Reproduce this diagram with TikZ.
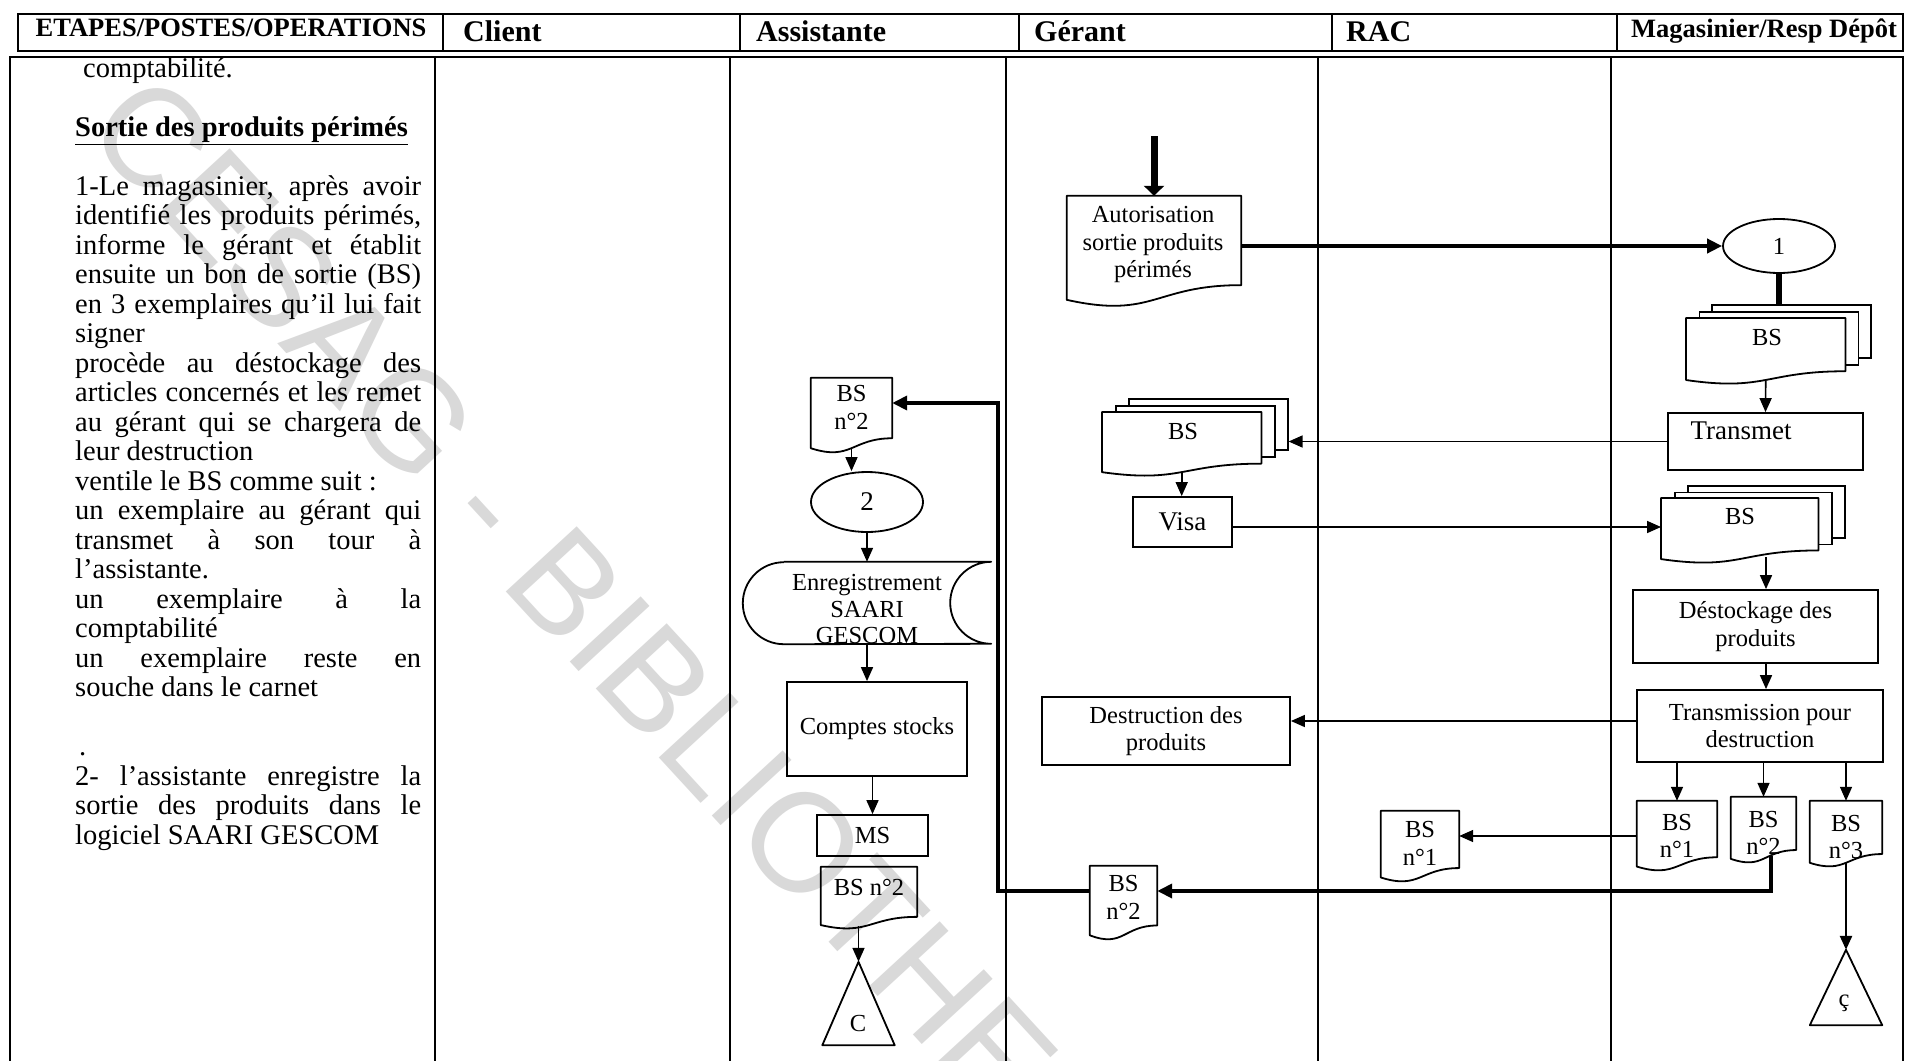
\documentclass[tikz,border=0pt]{standalone}
\usepackage{fontspec}
\setmainfont{Liberation Serif}
\setsansfont{Liberation Sans}
\usetikzlibrary{arrows.meta,calc,shapes.geometric}

% font sizes (1pt = 1px of the drawing)
\newcommand\bxfont{\fontsize{24.5}{27.5}\selectfont}
\newcommand\bigbxfont{\fontsize{27}{30}\selectfont}
\newcommand\bdfont{\fontsize{28.5}{29.5}\selectfont}
\newcommand\hdbig{\fontsize{30}{32}\selectfont\bfseries}
\newcommand\hdsmall{\fontsize{26.5}{28}\selectfont\bfseries}

% one justified line of the step description
\newcommand\jl[1]{\makebox[346pt][s]{\strut#1}}

% flowchart "document" outline drawn on the box of a node
\newcommand\drawdoc[2][]{%
  \draw[docline,#1] (#2.north west) -- (#2.north east)
    -- ($(#2.north east)!0.802!(#2.south east)$)
    .. controls ($(#2.north)!0.802!(#2.south)$) and ($(#2.north)!1.108!(#2.south)$)
    .. ($(#2.north west)!0.934!(#2.south west)$) -- cycle;}

\tikzset{
  tableline/.style={line width=2pt},
  docline/.style={line width=1.8pt, line join=round},
  procbox/.style={draw, rectangle, line width=1.8pt, inner sep=0pt, font=\bxfont, align=center},
  docnode/.style={rectangle, draw=none, inner sep=0pt},
  sheet/.style={draw, fill=white, rectangle, line width=1.6pt, inner sep=0pt, anchor=north west},
  lbl/.style={inner sep=0pt, font=\bxfont, align=center},
  arr/.style={line width=1.6pt, -{Triangle[length=14pt,width=12pt]}},
  thickarr/.style={line width=4pt, -{Triangle[length=15pt,width=14pt]}},
  hdr/.style={inner sep=0pt},
  bodytext/.style={anchor=north west, inner sep=0pt, align=left, font=\bdfont},
  wm/.style={inner sep=0pt, font=\fontsize{140}{140}\selectfont\sffamily, text=black!15, rotate=-47.4},
}

\begin{document}
\begin{tikzpicture}[x=1pt, y=-1pt]
\useasboundingbox (0,0) rectangle (1905,1060);
\fill[white] (0,0) rectangle (1905,1060);

% library stamp
\node[wm] (wmark) at (667,714) {CESAG - BIBLIOTHEQUE};

% ---------- header row ----------
\draw[tableline] (18,14) rectangle (1903,51);
\foreach \x in {443,740,1019,1332,1617} \draw[tableline] (\x,14) -- (\x,51);
\node[hdr, anchor=base, font=\hdsmall] (hEtapes) at (231,36) {ETAPES/POSTES/OPERATIONS};
\node[hdr, anchor=base west, font=\hdbig] (hClient) at (463,41) {Client};
\node[hdr, anchor=base west, font=\hdbig] (hAssist) at (756,41) {Assistante};
\node[hdr, anchor=base west, font=\hdbig] (hGerant) at (1034,41) {Gérant};
\node[hdr, anchor=base west, font=\hdbig] (hRac) at (1346,41) {RAC};
\node[hdr, anchor=base west, font=\hdsmall] (hMag) at (1631,37) {Magasinier/Resp Dépôt};

% ---------- swimlane body ----------
\draw[tableline] (10,1062) -- (10,57) -- (1903,57) -- (1903,1062);
\foreach \x in {435,730,1006,1318,1611} \draw[tableline] (\x,57) -- (\x,1062);

% ---------- step description ----------
\node[bodytext] (steps) at (75,56.5) {%
\hspace*{8pt}comptabilité.\strut\\
\strut\\
\underline{\textbf{Sortie des produits périmés}}\strut\\
\strut\\
\jl{1-Le magasinier, après avoir}\\
\jl{identifié les produits périmés,}\\
\jl{informe le gérant et établit}\\
\jl{ensuite un bon de sortie (BS)}\\
\jl{en 3 exemplaires qu’il lui fait}\\
signer\strut\\
\jl{procède au déstockage des}\\
\jl{articles concernés et les remet}\\
\jl{au gérant qui se chargera de}\\
leur destruction\strut\\
ventile le BS comme suit :\strut\\
\jl{un exemplaire au gérant qui}\\
\jl{transmet à son tour à}\\
l’assistante.\strut\\
\jl{un exemplaire à la}\\
comptabilité\strut\\
\jl{un exemplaire reste en}\\
souche dans le carnet\strut\\
\strut\\
\hspace*{4pt}.\strut\\
\jl{2- l’assistante enregistre la}\\
\jl{sortie des produits dans le}\\
logiciel SAARI GESCOM\strut};

% ---------- Gérant lane ----------
\coordinate (autorin) at (1154,136);
\node[docnode, minimum width=174pt, minimum height=111pt] (autor) at (1154,251.5) {};
\drawdoc{autor}
\node[lbl] (autort) at (1153,244.5) {Autorisation\\sortie produits\\périmés};
\draw[line width=7pt, -{Triangle[length=10pt,width=20pt]}] (autorin) -- (autor.north);

% ---------- Magasinier lane: BS in 3 copies ----------
\node[draw, ellipse, line width=1.8pt, minimum width=112pt, minimum height=54pt, inner sep=0pt, font=\bxfont] (one) at (1779,246) {1};
\draw[thickarr] (autor.east |- one.west) -- (one.west);

\node[sheet, minimum width=159pt, minimum height=53pt] (bsM1c) at (1711,304) {};
\node[sheet, minimum width=159pt, minimum height=53pt] (bsM1b) at (1698.5,311) {};
\node[docnode, anchor=north west, minimum width=159pt, minimum height=66pt] (bsM1) at (1686,318) {};
\drawdoc[fill=white]{bsM1}
\node[lbl] (bsM1t) at (1767,338) {BS};
\draw[line width=6pt] (one.south) -- (one.south |- bsM1c.north);

\node[procbox, minimum width=195pt, minimum height=57pt] (transmet) at (1765.5,441.5) {};
\node[lbl, font=\bigbxfont] (transmett) at (1741,431) {Transmet};
\draw[arr, shorten <=-4pt] (bsM1.south) -- (transmet.north);

% ---------- Gérant lane: BS received, visa ----------
\node[sheet, minimum width=159pt, minimum height=51pt] (bsGc) at (1128,398) {};
\node[sheet, minimum width=159pt, minimum height=51pt] (bsGb) at (1115,405) {};
\node[docnode, anchor=north west, minimum width=159pt, minimum height=64pt] (bsG) at (1102,412) {};
\drawdoc[fill=white]{bsG}
\node[lbl] (bsGt) at (1183,432) {BS};
\draw[arr] (transmet.west) -- (transmet.west -| bsGc.east);

\node[procbox, minimum width=99pt, minimum height=50pt, font=\bigbxfont] (visa) at (1182.5,522) {Visa};
\draw[arr, shorten <=-4pt] (bsG.south) -- (bsG.south |- visa.north);

% ---------- Magasinier lane: signed BS, destocking ----------
\node[sheet, minimum width=157pt, minimum height=52pt] (bsM2c) at (1687,485) {};
\node[sheet, minimum width=157pt, minimum height=52pt] (bsM2b) at (1674,491.5) {};
\node[docnode, anchor=north west, minimum width=157pt, minimum height=65pt] (bsM2) at (1661,498) {};
\drawdoc[fill=white]{bsM2}
\node[lbl] (bsM2t) at (1740,517) {BS};
\coordinate (visay) at (0,527);
\draw[arr] (visa.east |- visay) -- (bsM2.west |- visay);

\node[procbox, minimum width=245pt, minimum height=73pt] (destock) at (1755.5,626.5) {Déstockage des\\produits};
\coordinate (mainx) at (1766,0);
\draw[arr, shorten <=-6pt] (mainx |- bsM2.south) -- (mainx |- destock.north);

\node[procbox, minimum width=246pt, minimum height=72pt] (transm) at (1760,726) {Transmission pour\\destruction};
\draw[arr] (mainx |- destock.south) -- (mainx |- transm.north);

\node[procbox, minimum width=248pt, minimum height=68pt] (destr) at (1166,731) {Destruction des\\produits};
\coordinate (destry) at (0,721);
\draw[arr] (transm.west |- destry) -- (destr.east |- destry);

% the three copies of the BS
\node[docnode, minimum width=80pt, minimum height=70pt] (bsM1s) at (1677,836) {};
\drawdoc{bsM1s}
\node[lbl] (bsM1st) at (1677,836) {BS\\n°1};
\node[docnode, minimum width=65pt, minimum height=66pt] (bsM2s) at (1763.5,830) {};
\drawdoc{bsM2s}
\node[lbl] (bsM2st) at (1763.5,833) {BS\\n°2};
\node[docnode, minimum width=72pt, minimum height=66pt] (bsM3s) at (1846,834) {};
\drawdoc{bsM3s}
\node[lbl] (bsM3st) at (1846,837) {BS\\n°3};
\draw[arr] (bsM1s.north |- transm.south) -- (bsM1s.north);
\draw[arr] (bsM2s.north |- transm.south) -- (bsM2s.north);
\draw[arr] (bsM3s.north |- transm.south) -- (bsM3s.north);

% copy n°3 filed
\node[docnode, minimum width=72pt, minimum height=75pt] (triM) at (1846,987.5) {};
\draw[docline] (triM.north) -- (triM.south east) -- (triM.south west) -- cycle;
\node[lbl] (triMt) at (1844,1003) {ç};
\draw[line width=2.5pt, -{Triangle[length=14pt,width=12pt]}, shorten <=-4pt] (bsM3s.south) -- (triM.north);

% ---------- RAC lane: copy n°1 ----------
\node[docnode, minimum width=78pt, minimum height=71pt] (bsR1) at (1420,846.5) {};
\drawdoc{bsR1}
\node[lbl] (bsR1t) at (1420,843.5) {BS\\n°1};
\draw[arr] (bsM1s.west) -- (bsM1s.west -| bsR1.east);

% ---------- Gérant lane: copy n°2 ----------
\node[docnode, minimum width=67pt, minimum height=74pt] (bsG2) at (1123.5,903) {};
\drawdoc{bsG2}
\node[lbl] (bsG2t) at (1123.5,897.5) {BS\\n°2};
\coordinate (retA) at (1771,891);
\draw[thickarr, shorten <=-7pt] (retA |- bsM2s.south) -- (retA) -- (retA -| bsG2.east);

% ---------- Assistante lane ----------
\node[docnode, minimum width=81pt, minimum height=75pt] (bsA) at (851.5,415.5) {};
\drawdoc{bsA}
\node[lbl] (bsAt) at (851.5,407.5) {BS\\n°2};
\coordinate (retB) at (998,891);
\coordinate (retC) at (998,403);
\draw[thickarr] (bsG2.west |- retB) -- (retB) -- (retC) -- (retC -| bsA.east);

\node[draw, ellipse, line width=1.8pt, minimum width=112pt, minimum height=60pt, inner sep=0pt, font=\bigbxfont] (two) at (867,502) {2};
\draw[arr, shorten <=-5pt] (bsA.south) -- (bsA.south |- two.north);

\node[docnode, minimum width=248pt, minimum height=82pt] (enreg) at (867,603) {};
\node[lbl, font=\fontsize{24.5}{26}\selectfont] (enregt) at (867,609) {Enregistrement\\SAARI\\GESCOM};
\draw[docline] ($(enreg.north west)+(41,0)$) -- (enreg.north east)
  arc[start angle=90, end angle=270, x radius=41pt, y radius=41pt]
  -- ($(enreg.south west)+(41,0)$)
  arc[start angle=270, end angle=90, x radius=41pt, y radius=41pt];
\draw[arr] (two.south) -- (two.south |- enreg.north);

\node[procbox, minimum width=180pt, minimum height=94pt] (comptes) at (877,729) {Comptes stocks};
\draw[arr] (enreg.south) -- (enreg.south |- comptes.north);

\node[procbox, minimum width=111pt, minimum height=41pt] (ms) at (872.5,835.5) {MS};
\draw[arr] (ms.north |- comptes.south) -- (ms.north);

\node[docnode, minimum width=96pt, minimum height=62pt] (bsA2) at (869,898) {};
\drawdoc{bsA2}
\node[lbl] (bsA2t) at (869,887) {BS n°2};

\node[docnode, minimum width=72pt, minimum height=83pt] (triA) at (858.5,1003.5) {};
\draw[docline] (triA.north) -- (triA.south east) -- (triA.south west) -- cycle;
\node[lbl] (triAt) at (858,1023) {C};
\draw[arr, shorten <=-3pt] (triA.north |- bsA2.south) -- (triA.north);

\end{tikzpicture}
\end{document}
